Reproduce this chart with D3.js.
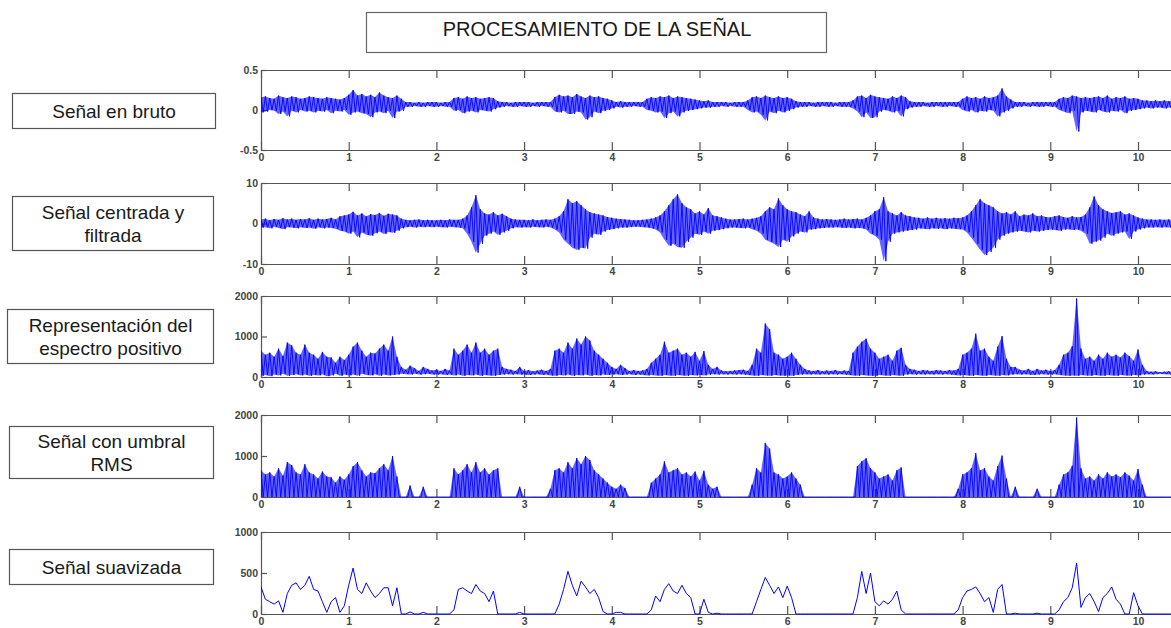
<!DOCTYPE html>
<html>
<head>
<meta charset="utf-8">
<script src="https://cdn.jsdelivr.net/npm/d3@7"></script>
<style>
  body { margin: 0; background: #fff; }
  svg { display: block; }
  text { font-family: "Liberation Sans", Arial, Helvetica, sans-serif; }
</style>
</head>
<body>
<svg id="chart" width="1171" height="628"></svg>
<script>
// ---- Data -------------------------------------------------------------
// Every series is sampled on the same grid: one sample every 0.05 s from 0 to 10.4 s.
// Oscillating signals are stored as a per-sample maximum / minimum pair.
const sampleStep = 0.05;
const timeTicks = [0, 1, 2, 3, 4, 5, 6, 7, 8, 9, 10];

// Raw signal (hundredths of a unit)
const rawHi = [
  16,17,15,14,18,16,15,17,16,14,15,17,16,15,14,16,15,14,13,15,
  19,25,18,20,17,19,16,22,18,16,15,18,14,10,10,9,10,9,10,10,
  10,9,10,10,15,16,14,17,15,16,14,15,16,15,11,10,10,9,10,10,
  10,10,9,10,10,10,10,16,19,17,18,16,20,17,15,18,16,17,15,14,
  12,10,11,10,10,10,10,10,14,16,15,17,16,18,15,17,16,15,14,13,
  12,11,12,10,10,10,10,9,10,10,10,12,16,17,15,18,16,15,17,15,
  16,14,11,10,10,10,9,10,10,10,10,9,10,10,10,12,17,18,15,19,
  17,16,15,14,17,15,18,16,11,10,10,10,9,10,10,10,10,10,10,10,
  14,17,15,16,14,17,15,16,18,27,17,13,10,10,10,9,10,10,10,10,
  10,10,14,16,15,18,17,15,16,15,16,17,15,18,14,16,15,17,14,15,
  14,12,12,11,12,11,12,11,12
];
const rawLo = [
  -3,-2,0,-1,-5,-2,-8,-1,-3,0,-2,-1,-3,-1,-2,0,-4,-1,-2,0,
  -6,-3,-2,-4,-5,-9,-3,-2,-4,-1,-10,-2,-1,4,4,5,4,4,5,4,
  4,5,4,4,-1,0,-4,-2,-1,-3,0,-1,-2,1,3,4,5,4,4,5,
  4,4,5,4,5,4,4,-2,-3,-1,-5,-5,-2,-3,-12,-9,-2,-4,-1,0,
  2,4,3,4,4,5,4,4,0,-1,-3,-2,-10,-4,-2,-8,-3,-1,0,1,
  2,3,3,4,4,5,4,5,4,4,4,0,-3,-2,-6,-13,-2,-4,-1,-3,
  -1,1,3,4,4,5,4,4,5,4,4,5,4,4,4,2,-2,-9,-3,-10,
  -9,-2,0,-1,-3,-1,-8,1,3,4,4,5,4,4,5,4,4,5,4,4,
  0,-2,0,-3,-1,-2,0,-1,-8,-3,-1,2,4,4,5,4,5,4,4,5,
  4,4,0,-2,-4,-1,-27,-3,-1,-2,-3,0,-2,-3,-1,-2,0,-4,-1,0,
  1,2,3,2,3,3,2,3,3
];

// Centred and filtered signal (tenths of a unit)
const filtHi = [
  10,12,8,11,9,13,10,12,9,11,10,13,9,12,10,11,14,10,18,20,
  22,29,20,25,18,23,21,26,19,24,22,20,12,9,8,9,10,8,9,8,
  8,9,8,10,9,9,12,20,40,70,35,25,22,28,20,24,18,12,10,9,
  9,8,10,8,9,10,9,12,18,30,60,50,55,45,35,28,25,22,20,16,
  14,12,11,10,9,8,8,9,10,12,15,20,30,45,60,72,50,40,35,25,
  30,22,38,20,18,15,12,10,10,11,12,10,12,14,18,30,40,35,62,45,
  35,30,28,22,18,30,15,12,10,11,10,9,10,12,10,11,12,10,14,20,
  30,35,65,30,25,20,28,20,18,15,14,12,15,12,14,12,13,12,14,13,
  15,20,30,45,60,50,45,40,30,25,28,22,30,18,22,20,25,18,20,16,
  15,18,20,16,14,18,15,16,22,40,67,45,35,30,26,28,30,22,25,20,
  15,12,10,10,9,10,9,10,9
];
const filtLo = [
  -10,-9,-12,-8,-11,-14,-9,-10,-12,-9,-11,-10,-13,-9,-12,-10,-11,-13,-18,-20,
  -25,-20,-34,-22,-28,-30,-24,-20,-26,-21,-23,-18,-12,-9,-8,-10,-8,-9,-8,-9,
  -8,-9,-10,-8,-9,-10,-12,-25,-45,-72,-50,-30,-25,-20,-28,-22,-18,-12,-9,-10,
  -9,-10,-8,-9,-10,-8,-10,-15,-22,-40,-50,-60,-65,-60,-62,-35,-25,-28,-20,-16,
  -14,-12,-10,-10,-9,-8,-8,-9,-10,-12,-15,-22,-40,-55,-50,-58,-60,-45,-35,-25,
  -28,-20,-25,-18,-16,-14,-12,-10,-10,-11,-12,-10,-14,-18,-25,-40,-45,-50,-58,-40,
  -45,-32,-25,-20,-22,-15,-14,-12,-11,-10,-10,-9,-10,-11,-10,-12,-11,-12,-15,-25,
  -30,-40,-93,-45,-25,-22,-20,-18,-16,-15,-12,-13,-14,-12,-13,-12,-14,-12,-13,-14,
  -15,-22,-35,-50,-65,-78,-70,-60,-40,-30,-25,-22,-20,-18,-20,-22,-18,-20,-18,-16,
  -15,-16,-18,-15,-14,-16,-15,-18,-25,-50,-45,-42,-35,-25,-30,-25,-22,-20,-38,-20,
  -15,-12,-10,-10,-9,-10,-9,-10,-9
];

// Positive spectrum representation
const specHi = [
  650,550,600,500,700,520,850,780,600,550,800,600,550,450,620,500,480,350,500,420,
  550,750,850,650,500,600,580,700,800,650,1000,500,250,180,280,220,150,250,200,160,
  180,150,200,160,700,550,650,800,600,850,600,700,550,650,700,250,200,180,150,250,
  150,170,140,160,180,150,200,650,700,600,850,700,950,800,1000,900,650,550,450,350,
  250,200,300,220,150,170,150,160,200,350,450,550,870,600,650,700,550,600,500,620,
  400,640,300,200,250,160,140,150,160,170,180,150,300,700,600,1320,1180,600,550,450,
  500,600,450,300,200,160,150,170,140,160,150,170,140,160,150,600,750,870,945,700,
  600,450,500,550,400,650,720,300,200,180,150,170,160,150,170,160,150,170,160,200,
  550,600,700,1070,650,700,500,400,750,1010,450,250,250,180,160,200,150,200,160,180,
  150,170,300,550,600,760,1940,700,450,500,400,550,450,600,500,550,480,600,520,400,
  680,300,150,130,140,120,130,140,120
];
const specLo = [
  30,50,20,60,40,80,30,50,70,40,60,30,50,40,60,20,40,80,30,60,
  40,60,30,80,50,40,70,30,60,40,50,60,80,70,60,80,60,70,80,60,
  60,70,50,60,40,60,30,50,40,60,30,50,40,30,50,60,70,60,70,60,
  60,50,60,70,50,60,40,30,50,40,60,30,50,40,60,30,50,40,60,50,
  60,70,50,60,70,50,60,50,40,50,40,30,50,40,30,50,40,30,50,40,
  50,40,60,70,60,70,60,70,60,70,60,50,40,30,50,40,30,50,40,30,
  40,30,50,60,70,60,70,60,70,60,70,60,70,60,50,40,30,50,40,30,
  30,50,40,30,50,40,30,60,70,60,70,60,70,60,70,60,70,60,50,40,
  50,40,30,50,40,30,50,40,30,50,40,60,70,60,70,60,50,60,70,60,
  60,70,50,40,30,40,30,50,40,30,50,40,30,50,40,30,50,40,30,50,
  40,60,70,60,70,80,70,60,70
];

// Time windows (s) kept by the RMS threshold; everything else is set to zero
const activeWindows = [
  [0, 0.9], [0.93, 1.56], [1.69, 1.72], [1.84, 1.86], [2.18, 2.72], [2.93, 2.96],
  [3.3, 4.15], [4.42, 5.21], [5.6, 6.15], [6.77, 7.31], [7.94, 8.51], [8.59, 8.61],
  [8.84, 8.86], [9.1, 9.91], [9.94, 10.06]
];

// Smoothed envelope
const smoothVals = [
  330,180,150,120,160,20,250,350,380,300,350,460,300,280,150,20,150,200,20,100,
  350,560,300,250,380,280,200,250,320,320,100,320,0,0,25,0,0,20,0,0,
  0,0,0,0,50,300,320,280,250,360,280,250,150,280,0,0,0,0,0,20,
  0,0,0,0,0,0,0,0,120,300,520,350,220,400,330,250,300,200,30,0,
  0,20,20,0,0,0,0,0,0,50,220,150,300,370,280,250,350,250,200,0,
  0,180,20,0,10,0,0,0,0,0,0,0,0,150,300,445,350,250,330,200,
  340,200,0,0,0,0,0,0,0,0,0,0,0,0,0,0,200,520,250,500,
  150,100,160,120,180,280,50,0,0,0,0,0,0,0,0,0,0,0,0,50,
  200,280,300,330,250,150,200,20,300,360,0,0,10,0,0,0,0,10,0,0,
  0,0,50,150,200,320,620,80,200,250,150,30,200,250,330,180,120,0,0,260,
  100,0,0,0,0,0,0,0,0
];

const titleText = "PROCESAMIENTO DE LA SEÑAL";
const panelNames = [
  ["Señal en bruto"],
  ["Señal centrada y", "filtrada"],
  ["Representación del", "espectro positivo"],
  ["Señal con umbral", "RMS"],
  ["Señal suavizada"]
];
const yTickSets = [[-0.5, 0, 0.5], [-10, 0, 10], [0, 1000, 2000], [0, 1000, 2000], [0, 500, 1000]];
const yDomains = [[-0.5, 0.5], [-10, 10], [0, 2000], [0, 2000], [0, 1000]];

// ---- Series construction ---------------------------------------------
const tAt = i => +(i * sampleStep).toFixed(3);
const inWindow = t => activeWindows.some(([a, b]) => t >= a - 1e-9 && t <= b + 1e-9);

// Min/max envelope per sample: [time, low, high]
function envelope(hi, lo, unit) {
  const n = Math.min(hi.length, lo.length);
  return d3.range(n).map(i => [tAt(i), lo[i] * unit, hi[i] * unit]);
}
// Trace that swings from each sample's maximum to its minimum
function swingTrace(env) {
  const pts = [];
  env.forEach(([t, lo, hi]) => { pts.push([t, hi]); pts.push([t + sampleStep / 2, lo]); });
  return pts;
}

const threshHi = specHi.map((v, i) => inWindow(tAt(i)) ? v : 0);
const bands = [
  envelope(rawHi, rawLo, 0.01),
  envelope(filtHi, filtLo, 0.1),
  envelope(specHi, specLo, 1),
  envelope(threshHi, threshHi.map(() => 0), 1),
  null
];
const smoothTrace = smoothVals.map((v, i) => [tAt(i), v]);

// ---- Layout -----------------------------------------------------------
const W = 1171, H = 628;
const plotLeft = 261, pxPerSecond = 87.7, xEnd = 10.7;
const panelBoxes = [
  { top: 70, bottom: 150 },
  { top: 183, bottom: 264 },
  { top: 296, bottom: 377 },
  { top: 415, bottom: 497 },
  { top: 532, bottom: 614 }
];
const labelBoxes = [
  { x: 12, y: 93, w: 203, h: 35 },
  { x: 12, y: 196, w: 201, h: 54 },
  { x: 7, y: 309, w: 206, h: 54 },
  { x: 9, y: 426, w: 204, h: 52 },
  { x: 9, y: 549, w: 204, h: 35 }
];

const svg = d3.select("#chart");
svg.append("rect").attr("width", W).attr("height", H).attr("fill", "#fff");

const x = d3.scaleLinear().domain([0, xEnd]).range([plotLeft, plotLeft + pxPerSecond * xEnd]);

// Title
svg.append("rect").attr("x", 366.5).attr("y", 12.5).attr("width", 460).attr("height", 40)
  .attr("fill", "none").attr("stroke", "#666").attr("stroke-width", 1.2);
svg.append("text").attr("x", 597).attr("y", 36).attr("text-anchor", "middle")
  .attr("font-size", 20).attr("fill", "#1a1a1a").text(titleText);

panelBoxes.forEach((pb, k) => {
  // Name box
  const lb = labelBoxes[k];
  svg.append("rect").attr("x", lb.x + 0.5).attr("y", lb.y + 0.5).attr("width", lb.w).attr("height", lb.h)
    .attr("fill", "none").attr("stroke", "#555").attr("stroke-width", 1.2);
  const lines = panelNames[k];
  const cy = lb.y + lb.h / 2;
  lines.forEach((s, j) => {
    svg.append("text")
      .attr("x", lb.x + lb.w / 2 + 0.5)
      .attr("y", cy + 7 + (j - (lines.length - 1) / 2) * 23)
      .attr("text-anchor", "middle").attr("font-size", 19).attr("fill", "#1a1a1a")
      .text(s);
  });

  const y = d3.scaleLinear().domain(yDomains[k]).range([pb.bottom, pb.top]);
  const g = svg.append("g");

  // Axes
  const axisStyle = sel => {
    sel.selectAll("path.domain").attr("stroke", "#555").attr("stroke-width", 1.2);
    sel.selectAll(".tick line").attr("stroke", "#555").attr("stroke-width", 1.2);
    sel.selectAll(".tick text").attr("fill", "#444").attr("font-size", 10.5)
      .attr("font-weight", "bold").style("font-family", '"Liberation Sans", Arial, sans-serif');
  };
  g.append("g").attr("transform", `translate(0,${pb.bottom})`)
    .call(d3.axisBottom(x).tickValues(timeTicks).tickFormat(d => String(d))
      .tickSize(-8).tickSizeOuter(0).tickPadding(4))
    .call(axisStyle);
  g.append("g").attr("transform", `translate(0,${pb.top})`)
    .call(d3.axisTop(x).tickValues(timeTicks).tickFormat("").tickSize(-8).tickSizeOuter(0))
    .call(axisStyle);
  g.append("g").attr("transform", `translate(${plotLeft},0)`)
    .call(d3.axisLeft(y).tickValues(yTickSets[k]).tickFormat(d => String(d))
      .tickSize(-6).tickSizeOuter(0).tickPadding(3))
    .call(axisStyle);

  // Signal
  const clipId = "clip" + k;
  svg.append("clipPath").attr("id", clipId).append("rect")
    .attr("x", plotLeft).attr("y", pb.top).attr("width", W - plotLeft).attr("height", pb.bottom - pb.top + 1);
  const layer = svg.append("g").attr("clip-path", `url(#${clipId})`);
  const line = d3.line().x(d => x(d[0])).y(d => y(d[1]));

  if (bands[k]) {
    const area = d3.area().x(d => x(d[0])).y0(d => y(d[1])).y1(d => y(d[2]));
    layer.append("path").datum(bands[k]).attr("d", area)
      .attr("fill", "#0000ff").attr("fill-opacity", 0.6).attr("stroke", "none");
    layer.append("path").datum(swingTrace(bands[k])).attr("d", line)
      .attr("fill", "none").attr("stroke", "#0000ff")
      .attr("stroke-width", 0.9).attr("stroke-linejoin", "round");
  } else {
    layer.append("path").datum(smoothTrace).attr("d", line)
      .attr("fill", "none").attr("stroke", "#0000ff")
      .attr("stroke-width", 1).attr("stroke-linejoin", "round");
  }
});
</script>
</body>
</html>
